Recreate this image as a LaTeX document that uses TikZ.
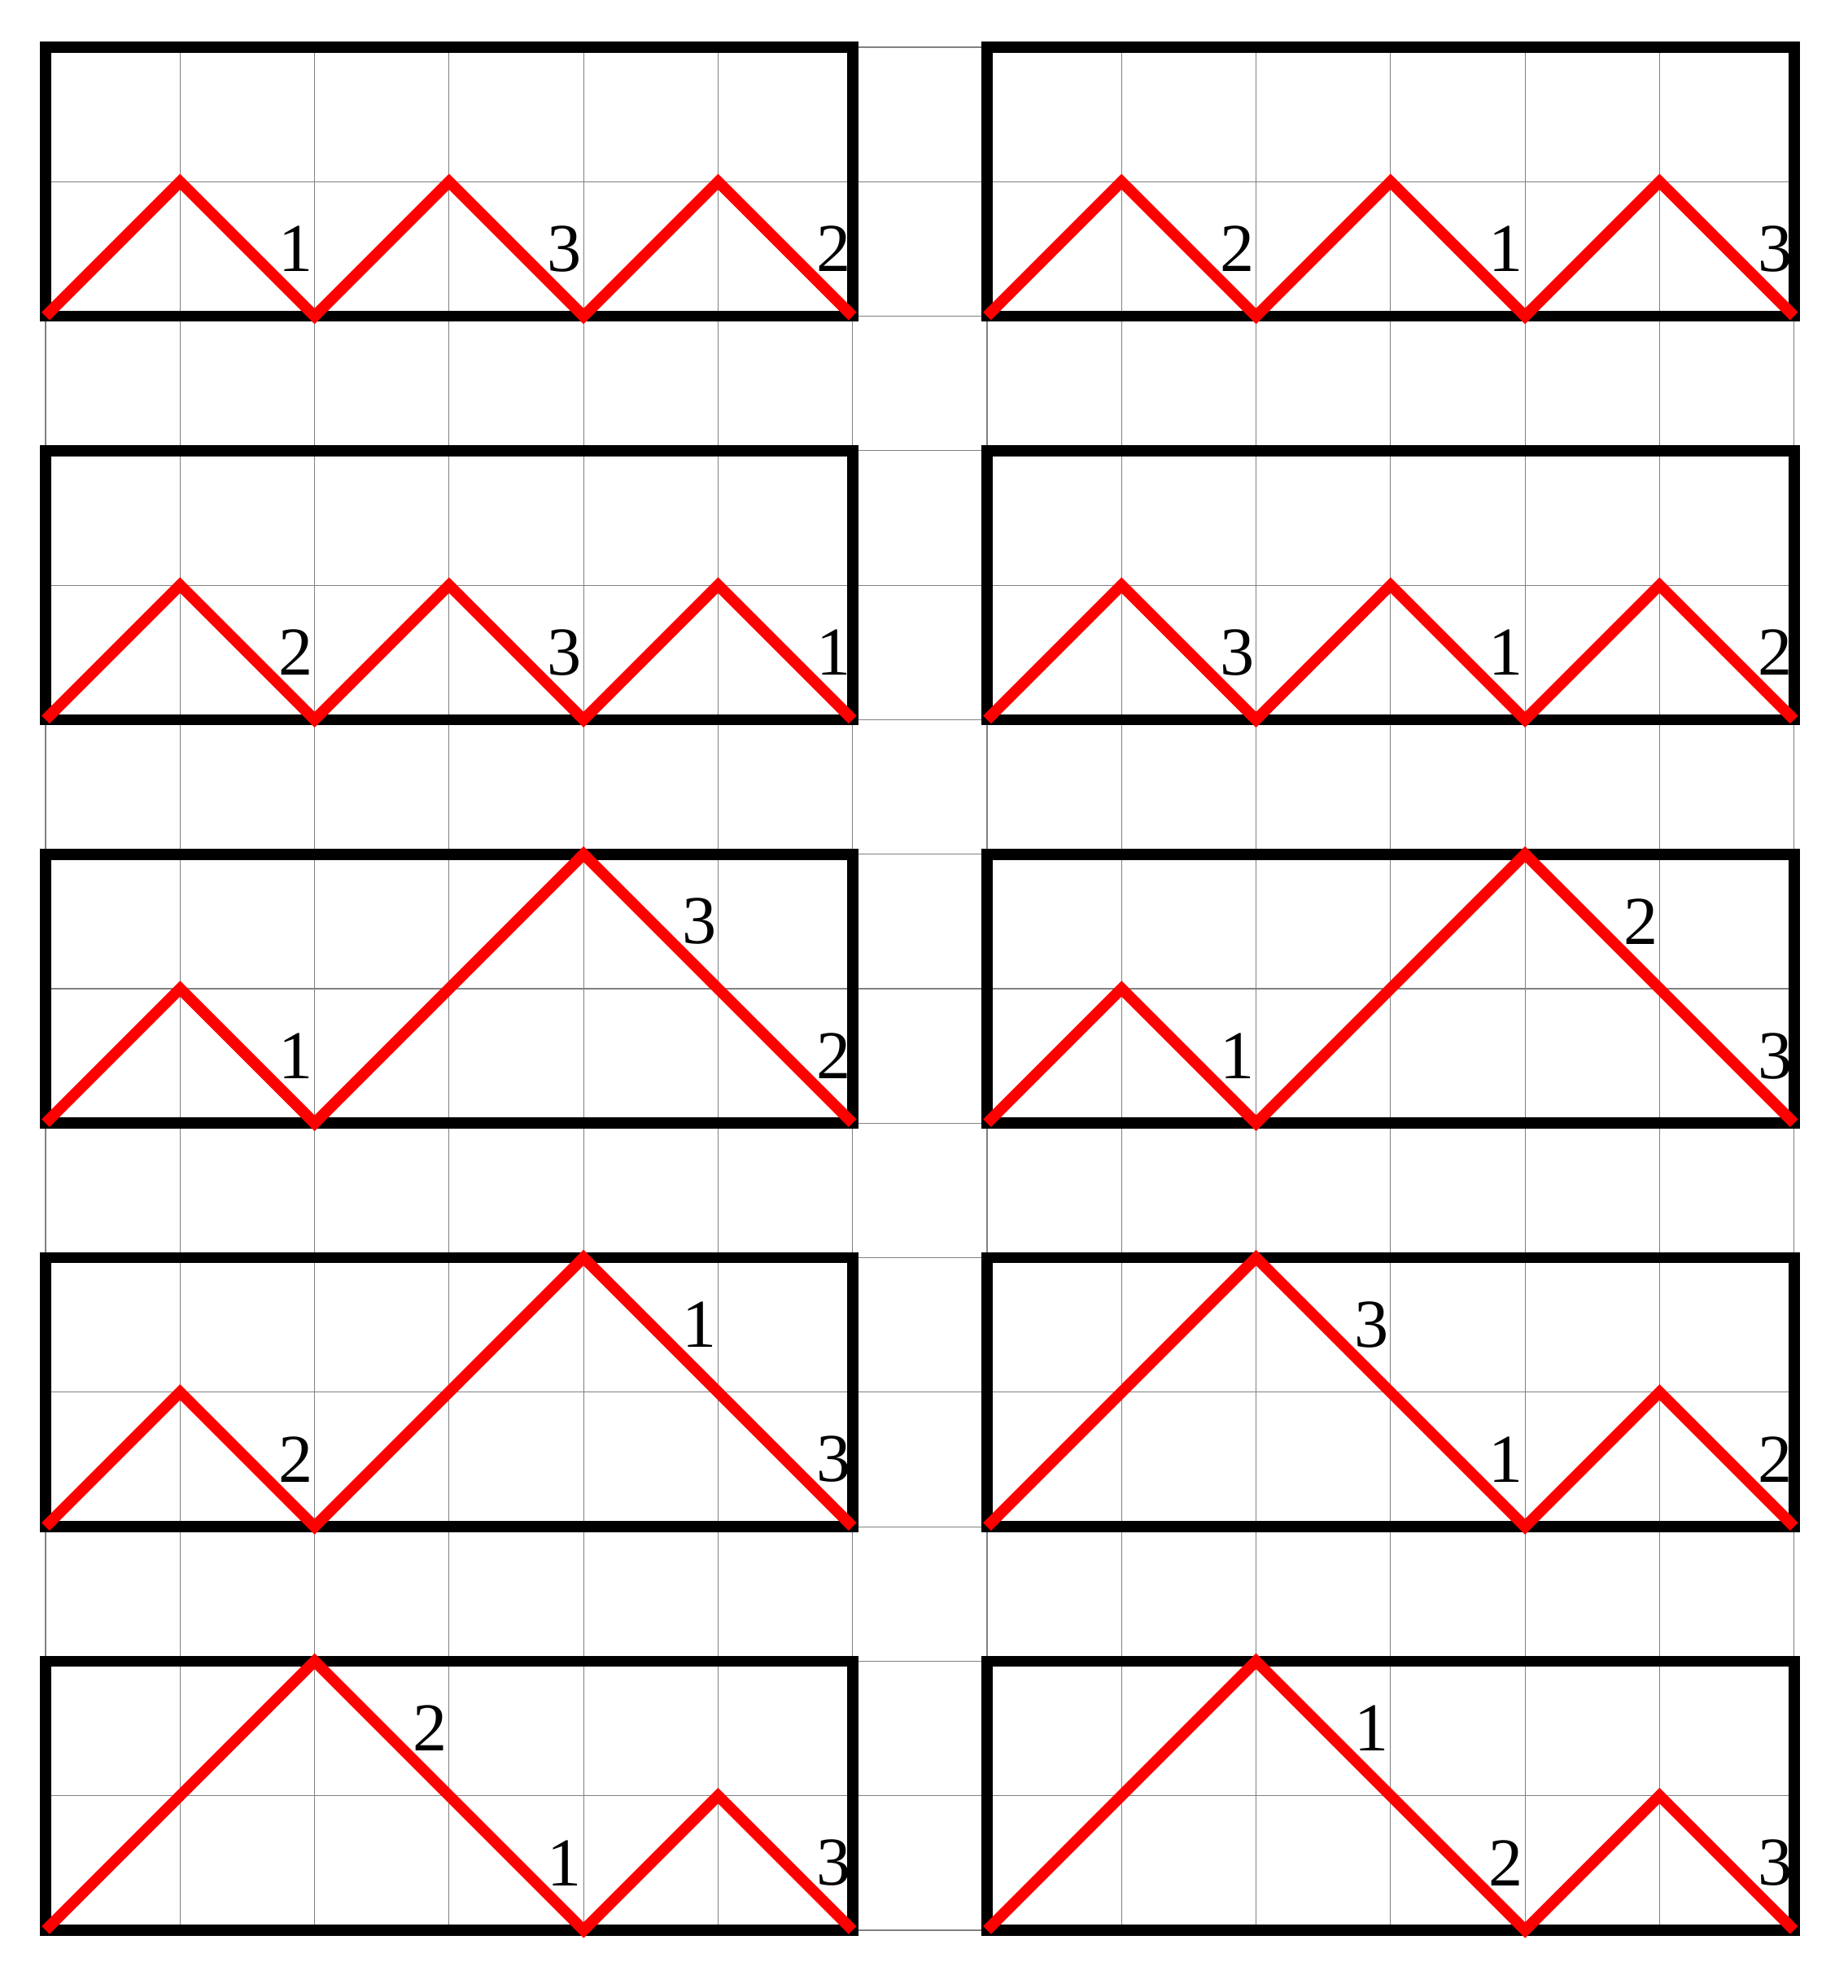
\documentclass[tikz,border=0pt]{standalone}
\usepackage{fontspec}
\setmainfont{Liberation Serif}
\begin{document}
\begin{tikzpicture}[x=1cm,y=1cm,
  frame/.style={draw=black, line width=2.36pt},
  dyck/.style={draw=red, line width=2.36pt},
  lbl/.style={font=\fontsize{14.5}{17}\selectfont, inner sep=0pt, anchor=center}]
\useasboundingbox (-0.339,-0.43) rectangle (13.40,14.351);
\draw[help lines] (0,0) grid (13,14);
% ---------- row 0 ----------
\begin{scope}[shift={(0,12)}]
  \node[lbl] (a1) at (1.86,0.5) {1};
  \node[lbl] (a2) at (3.86,0.5) {3};
  \node[lbl] (a3) at (5.86,0.5) {2};
  \draw[frame] (0,0) rectangle (6,2);
  \draw[dyck] (0,0) -- (1,1) -- (2,0) -- (3,1) -- (4,0) -- (5,1) -- (6,0);
\end{scope}
\begin{scope}[shift={(7,12)}]
  \node[lbl] (b1) at (1.86,0.5) {2};
  \node[lbl] (b2) at (3.86,0.5) {1};
  \node[lbl] (b3) at (5.86,0.5) {3};
  \draw[frame] (0,0) rectangle (6,2);
  \draw[dyck] (0,0) -- (1,1) -- (2,0) -- (3,1) -- (4,0) -- (5,1) -- (6,0);
\end{scope}
% ---------- row 1 ----------
\begin{scope}[shift={(0,9)}]
  \node[lbl] (c1) at (1.86,0.5) {2};
  \node[lbl] (c2) at (3.86,0.5) {3};
  \node[lbl] (c3) at (5.86,0.5) {1};
  \draw[frame] (0,0) rectangle (6,2);
  \draw[dyck] (0,0) -- (1,1) -- (2,0) -- (3,1) -- (4,0) -- (5,1) -- (6,0);
\end{scope}
\begin{scope}[shift={(7,9)}]
  \node[lbl] (d1) at (1.86,0.5) {3};
  \node[lbl] (d2) at (3.86,0.5) {1};
  \node[lbl] (d3) at (5.86,0.5) {2};
  \draw[frame] (0,0) rectangle (6,2);
  \draw[dyck] (0,0) -- (1,1) -- (2,0) -- (3,1) -- (4,0) -- (5,1) -- (6,0);
\end{scope}
% ---------- row 2 ----------
\begin{scope}[shift={(0,6)}]
  \node[lbl] (e1) at (1.86,0.5) {1};
  \node[lbl] (e2) at (4.86,1.5) {3};
  \node[lbl] (e3) at (5.86,0.5) {2};
  \draw[frame] (0,0) rectangle (6,2);
  \draw[dyck] (0,0) -- (1,1) -- (2,0) -- (3,1) -- (4,2) -- (5,1) -- (6,0);
\end{scope}
\begin{scope}[shift={(7,6)}]
  \node[lbl] (f1) at (1.86,0.5) {1};
  \node[lbl] (f2) at (4.86,1.5) {2};
  \node[lbl] (f3) at (5.86,0.5) {3};
  \draw[frame] (0,0) rectangle (6,2);
  \draw[dyck] (0,0) -- (1,1) -- (2,0) -- (3,1) -- (4,2) -- (5,1) -- (6,0);
\end{scope}
% ---------- row 3 ----------
\begin{scope}[shift={(0,3)}]
  \node[lbl] (g1) at (1.86,0.5) {2};
  \node[lbl] (g2) at (4.86,1.5) {1};
  \node[lbl] (g3) at (5.86,0.5) {3};
  \draw[frame] (0,0) rectangle (6,2);
  \draw[dyck] (0,0) -- (1,1) -- (2,0) -- (3,1) -- (4,2) -- (5,1) -- (6,0);
\end{scope}
\begin{scope}[shift={(7,3)}]
  \node[lbl] (h1) at (2.86,1.5) {3};
  \node[lbl] (h2) at (3.86,0.5) {1};
  \node[lbl] (h3) at (5.86,0.5) {2};
  \draw[frame] (0,0) rectangle (6,2);
  \draw[dyck] (0,0) -- (1,1) -- (2,2) -- (3,1) -- (4,0) -- (5,1) -- (6,0);
\end{scope}
% ---------- row 4 ----------
\begin{scope}[shift={(0,0)}]
  \node[lbl] (i1) at (2.86,1.5) {2};
  \node[lbl] (i2) at (3.86,0.5) {1};
  \node[lbl] (i3) at (5.86,0.5) {3};
  \draw[frame] (0,0) rectangle (6,2);
  \draw[dyck] (0,0) -- (1,1) -- (2,2) -- (3,1) -- (4,0) -- (5,1) -- (6,0);
\end{scope}
\begin{scope}[shift={(7,0)}]
  \node[lbl] (j1) at (2.86,1.5) {1};
  \node[lbl] (j2) at (3.86,0.5) {2};
  \node[lbl] (j3) at (5.86,0.5) {3};
  \draw[frame] (0,0) rectangle (6,2);
  \draw[dyck] (0,0) -- (1,1) -- (2,2) -- (3,1) -- (4,0) -- (5,1) -- (6,0);
\end{scope}
\end{tikzpicture}
\end{document}
